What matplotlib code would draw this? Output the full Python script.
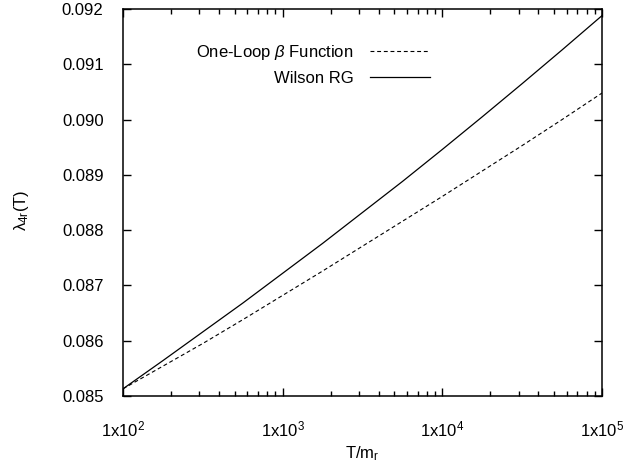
import numpy as np
import matplotlib
matplotlib.use("Agg")
import matplotlib.pyplot as plt
from matplotlib.ticker import LogLocator, FixedLocator, NullFormatter

# =========================
# Data (quarter-decade steps)
# =========================
T_OVER_M = [1.0e2, 1.778e2, 3.162e2, 5.623e2, 1.0e3, 1.778e3, 3.162e3,
            5.623e3, 1.0e4, 1.778e4, 3.162e4, 5.623e4, 1.0e5]
WILSON_RG = [0.08513, 0.08564, 0.08616, 0.08668, 0.08722, 0.08776, 0.08832,
             0.08888, 0.08946, 0.09005, 0.09065, 0.09126, 0.09188]
ONE_LOOP = [0.08513, 0.08554, 0.08595, 0.08638, 0.08682, 0.08726, 0.08771,
            0.08816, 0.08861, 0.08907, 0.08953, 0.09000, 0.09048]

Y_TICKS = [0.085, 0.086, 0.087, 0.088, 0.089, 0.090, 0.091, 0.092]
X_TICKS = [1e2, 1e3, 1e4, 1e5]
X_TICK_LABELS = ["1x10$^{2}$", "1x10$^{3}$", "1x10$^{4}$", "1x10$^{5}$"]

# =========================
# Style
# =========================
plt.rcParams["font.family"] = ["Liberation Sans", "DejaVu Sans"]
plt.rcParams["font.size"] = 12
plt.rcParams["mathtext.fontset"] = "custom"
plt.rcParams["mathtext.rm"] = "Liberation Sans"
plt.rcParams["mathtext.it"] = "Liberation Sans:italic"
plt.rcParams["mathtext.default"] = "regular"

W, H = 631, 467
fig = plt.figure(figsize=(W / 100, H / 100), dpi=100)
left, right, top, bottom = 123, 602, 9, 396
ax = fig.add_axes([left / W, 1 - bottom / H, (right - left) / W, (bottom - top) / H])

ax.plot(T_OVER_M, ONE_LOOP, color="black", lw=0.8, linestyle=(0, (3.5, 2.5)),
        label=r"One-Loop $\it{\beta}$ Function")
ax.plot(T_OVER_M, WILSON_RG, color="black", lw=0.9, label="Wilson RG")

ax.set_xscale("log")
ax.set_xlim(1e2, 1e5)
ax.set_ylim(0.085, 0.092)

ax.xaxis.set_major_locator(FixedLocator(X_TICKS))
ax.set_xticklabels(X_TICK_LABELS)
ax.xaxis.set_minor_locator(LogLocator(base=10, subs=np.arange(2, 10)))
ax.xaxis.set_minor_formatter(NullFormatter())
ax.set_yticks(Y_TICKS)
ax.set_yticklabels([f"{v:.3f}" for v in Y_TICKS])

ax.tick_params(which="both", direction="in", top=True, right=True)
ax.tick_params(which="major", length=6, width=1)
ax.tick_params(which="minor", length=3.5, width=1)
ax.tick_params(axis="y", pad=14)
ax.tick_params(axis="x", pad=17)
for s in ax.spines.values():
    s.set_linewidth(1.1)

ax.set_xlabel("T/m$_{r}$")
ax.set_ylabel(r"$\mathrm{\lambda}_{4r}$(T)")
ax.xaxis.set_label_coords(0.5, (bottom - 444) / (bottom - top))
ax.yaxis.set_label_coords((31 - left) / (right - left), 0.48)

ax.legend(loc="upper right", bbox_to_anchor=(430 / W, 1 - 43 / H),
          bbox_transform=fig.transFigure, frameon=False, markerfirst=False,
          handlelength=3.6, handletextpad=1.0, labelspacing=0.55,
          borderpad=0, borderaxespad=0)

fig.savefig("out.png", dpi=100)
